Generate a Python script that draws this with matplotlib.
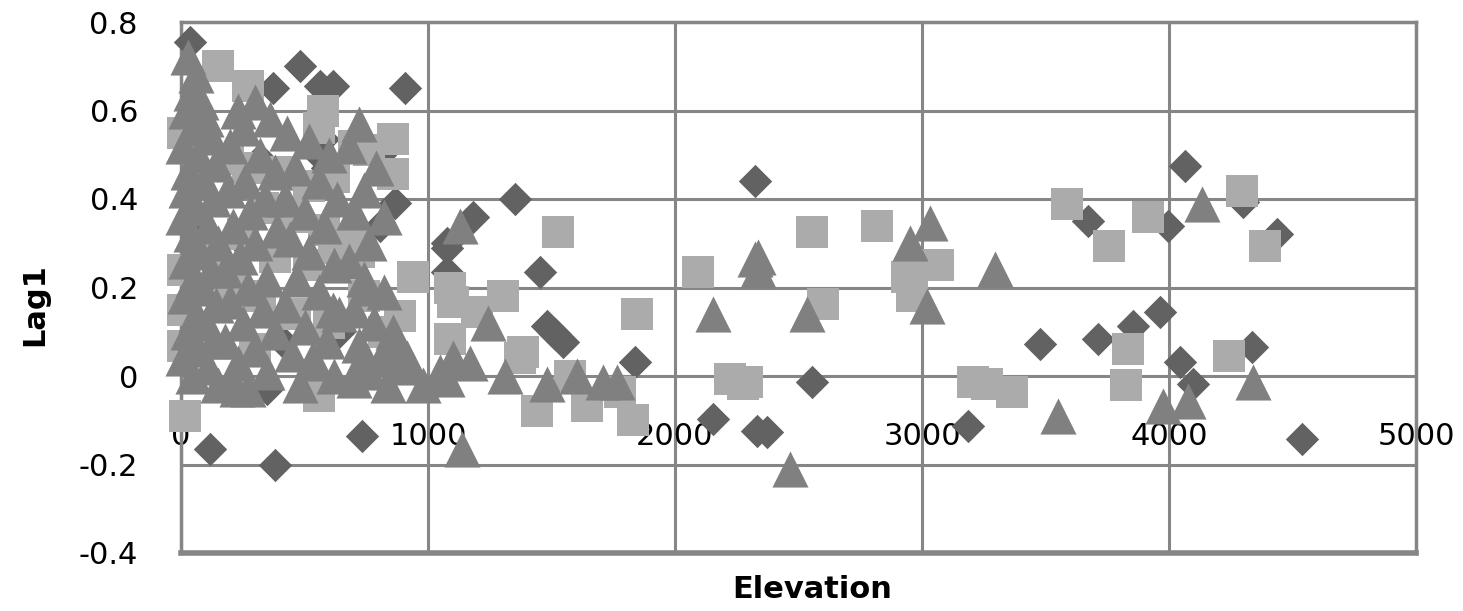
import matplotlib
matplotlib.use("Agg")
import matplotlib.pyplot as plt
from matplotlib.ticker import FuncFormatter

# series 1 - dark diamonds
dia_x = [36, 482, 907, 372, 563, 615, 575, 591, 866, 806, 117, 381, 733, 1077, 1077,
         413, 348, 1352, 1182, 1077, 1453, 1482, 1514, 1547, 1838, 2154, 2324, 2332,
         2555, 2372, 3478, 3186, 4065, 3672, 3996, 4300, 4437, 3964, 3713, 3854, 4045,
         4097, 4336, 4538, 36, 320, 806, 560, 250, 640]
dia_y = [0.755, 0.70, 0.65, 0.65, 0.655, 0.655, 0.535, 0.47, 0.39, 0.34, -0.165, -0.20,
         -0.135, 0.235, 0.30, 0.077, -0.03, 0.40, 0.36, 0.29, 0.235, 0.113, 0.095, 0.077,
         0.032, -0.097, 0.44, -0.124, -0.014, -0.127, 0.072, -0.113, 0.475, 0.35, 0.34,
         0.393, 0.32, 0.145, 0.084, 0.113, 0.032, -0.018, 0.066, -0.142, 0.35, 0.49, 0.50,
         0.50, 0.30, 0.10]

# series 2 - light squares
sq_x = [150, 270, 575, 700, 760, 860, 860, 190, 270, 400, 520, 620, 330, 450, 580, 700,
        250, 130, 380, 520, 620, 720, 10, 10, 10, 15, 200, 320, 460, 600, 740, 820, 939,
        887, 1101, 1089, 1198, 1089, 1385, 1372, 1526, 1304, 1441, 1644, 1830, 1846, 1575,
        1777, 2093, 2223, 2275, 2555, 2818, 2939, 3065, 2599, 2960, 2291, 3206, 3263,
        3364, 3587, 3915, 3757, 4296, 4389, 3834, 3826, 4243, 10, 560, 560, 640, 300]
sq_y = [0.70, 0.655, 0.60, 0.52, 0.51, 0.535, 0.457, 0.49, 0.47, 0.46, 0.43, 0.45, 0.38,
        0.36, 0.33, 0.30, 0.32, 0.28, 0.27, 0.25, 0.29, 0.28, 0.24, 0.15, 0.068, -0.09,
        0.20, 0.18, 0.14, 0.12, 0.18, 0.10, 0.224, 0.136, 0.167, 0.084, 0.145, 0.20, 0.054,
        0.04, 0.325, 0.18, -0.08, -0.068, -0.10, 0.14, 0.0, -0.036, 0.235, -0.007, -0.018,
        0.325, 0.34, 0.224, 0.25, 0.163, 0.18, -0.014, -0.014, -0.018, -0.036, 0.389,
        0.36, 0.294, 0.418, 0.294, 0.061, -0.02, 0.045, 0.55, -0.045, 0.56, 0.29, 0.06]

# series 3 - mid grey triangles
tri_x = [30, 60, 40, 80, 20, 100, 50, 120, 10, 70, 140, 30, 90, 20, 130, 60, 10, 110, 40,
         150, 70, 20, 120, 50, 90, 15, 140, 60, 100, 30, 130, 70, 10, 110, 50, 150,
         230, 300, 250, 360, 200, 320, 380, 260, 190, 340, 280, 210, 390, 300, 240, 180,
         350, 270, 200, 330, 250, 380, 180, 300, 230, 350, 270, 200,
         430, 520, 600, 460, 560, 420, 630, 500, 580, 440, 520, 620, 470, 560, 420, 640,
         500, 590, 450, 540, 620, 480,
         720, 680, 790, 740, 700, 820, 760, 680, 740, 820, 700, 780, 860, 720, 810, 880,
         760, 840, 700, 753, 615, 858, 915, 725, 534, 227,
         930, 980, 1050, 1100, 1077, 1170, 1243, 1138, 1130, 1312, 1482, 1603, 1708, 1765,
         2154, 2324, 2336, 2336, 2534, 2951, 3032, 3020, 3296, 2466, 3551, 4134, 3976,
         4077, 4340]
tri_y = [0.72, 0.68, 0.64, 0.62, 0.60, 0.58, 0.56, 0.54, 0.52, 0.50, 0.48, 0.46, 0.44,
         0.42, 0.40, 0.38, 0.36, 0.34, 0.32, 0.30, 0.28, 0.26, 0.24, 0.22, 0.20, 0.18,
         0.16, 0.14, 0.12, 0.10, 0.08, 0.06, 0.04, 0.02, 0.0, -0.02,
         0.60, 0.62, 0.56, 0.58, 0.52, 0.50, 0.46, 0.44, 0.42, 0.40, 0.37, 0.34, 0.33,
         0.30, 0.27, 0.24, 0.22, 0.20, 0.17, 0.15, 0.12, 0.10, 0.08, 0.06, 0.03, 0.01,
         -0.03, -0.01,
         0.55, 0.53, 0.50, 0.47, 0.44, 0.40, 0.40, 0.37, 0.34, 0.31, 0.28, 0.25, 0.22,
         0.19, 0.16, 0.14, 0.11, 0.08, 0.05, 0.03, 0.00, -0.02,
         0.57, 0.52, 0.47, 0.42, 0.37, 0.36, 0.30, 0.26, 0.22, 0.19, 0.15, 0.12, 0.10,
         0.07, 0.04, 0.03, 0.01, -0.02, -0.01, 0.20, 0.15, 0.068, 0.04, 0.03, 0.04, -0.03,
         0.02, -0.02, 0.01, 0.04, -0.007, 0.03, 0.12, -0.165, 0.34, 0.0, -0.018, 0.0,
         -0.014, -0.014,
         0.14, 0.264, 0.27, 0.24, 0.14, 0.30, 0.345, 0.158, 0.242, -0.21, -0.09, 0.389,
         -0.068, -0.056, -0.014]

grid_col = "#868686"

fig = plt.figure(figsize=(14.63, 6.11), dpi=100)
ax = fig.add_axes([181 / 1463, 58 / 611, 1235 / 1463, 531 / 611])

ax.scatter(dia_x, dia_y, marker="D", s=17 ** 2, color="#626262", linewidths=0,
           zorder=3, clip_on=False)
ax.scatter(sq_x, sq_y, marker="s", s=23 ** 2, color="#ababab", linewidths=0,
           zorder=4, clip_on=False)
ax.scatter(tri_x, tri_y, marker="^", s=26 ** 2, color="#808080", linewidths=0,
           zorder=5, clip_on=False)

ax.set_xlim(0, 5000)
ax.set_ylim(-0.4, 0.8)
ax.set_xticks([0, 1000, 2000, 3000, 4000, 5000])
ax.set_yticks([-0.4, -0.2, 0, 0.2, 0.4, 0.6, 0.8])
ax.yaxis.set_major_formatter(FuncFormatter(lambda v, p: "0" if abs(v) < 1e-9 else "%.1f" % v))
ax.xaxis.set_major_formatter(FuncFormatter(lambda v, p: "%d" % v))

ax.grid(True, color=grid_col, lw=2.2, zorder=0)
ax.set_axisbelow(True)
ax.spines["bottom"].set_position(("data", 0))
ax.spines["bottom"].set_visible(False)
for s in ["left", "top", "right"]:
    ax.spines[s].set_color(grid_col)
    ax.spines[s].set_linewidth(2.5)
ax.axhline(-0.4, color=grid_col, lw=4, clip_on=False, zorder=1)

ax.tick_params(axis="x", length=0, pad=33, labelsize=22)
ax.tick_params(axis="y", length=0, pad=31, labelsize=22)

fig.text(812 / 1463, 1 - 590 / 611, "Elevation", ha="center", va="center",
         fontsize=22, fontweight="bold")
fig.text(35 / 1463, 1 - 305 / 611, "Lag1", ha="center", va="center", rotation=90,
         fontsize=22, fontweight="bold")

fig.savefig("out.png", dpi=100)
